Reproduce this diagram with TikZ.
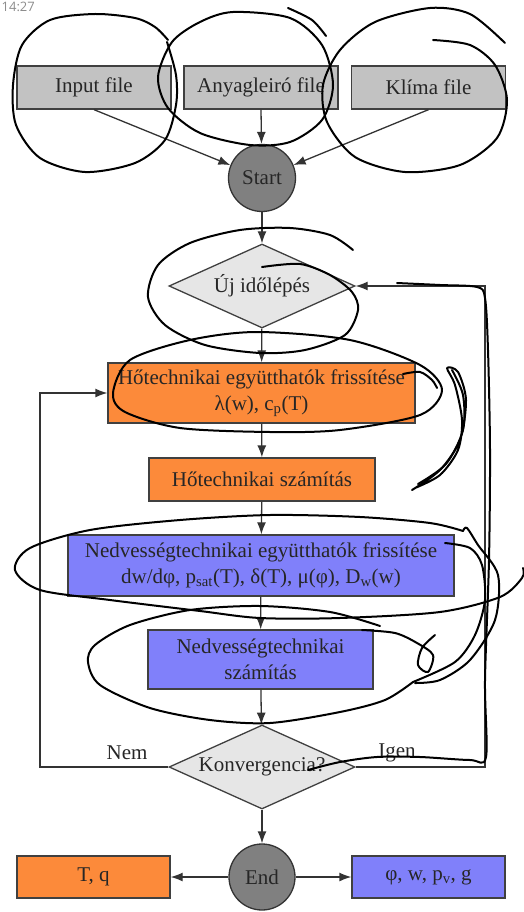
\documentclass[tikz,border=0pt]{standalone}
\usepackage{fontspec}
\setmainfont{Liberation Serif}
\newfontfamily\clockfont{Open Sans}
\usepackage{tikz}
\usetikzlibrary{shapes,shapes.geometric,arrows.meta}

\definecolor{filegray}{RGB}{194,194,194}
\definecolor{startgray}{RGB}{128,128,128}
\definecolor{askgray}{RGB}{230,230,230}
\definecolor{heatorange}{RGB}{252,138,58}
\definecolor{moistblue}{RGB}{128,128,250}

\begin{document}
\begin{tikzpicture}[x=1pt, y=-1pt, line width=1.3pt, draw=black!80,
        >={Latex[length=12pt,width=9pt]},
        every node/.append style={font=\fontsize{21}{26}\selectfont, text=black!85}]
      \tikzstyle{file} = [rectangle, draw=black!75, fill=filegray, inner sep=0pt, minimum width=154pt, minimum height=43pt]
      \tikzstyle{term} = [circle, draw=black!80, fill=startgray, inner sep=0pt, minimum size=67pt]
      \tikzstyle{ask} = [diamond, draw=black!75, fill=askgray, inner sep=0pt, aspect=2.2, minimum width=186pt, minimum height=84pt]
      \tikzstyle{heat} = [rectangle, draw=black!75, fill=heatorange, inner sep=0pt, align=center]
      \tikzstyle{moist} = [rectangle, draw=black!75, fill=moistblue, inner sep=0pt, align=center]
      \tikzstyle{scribble} = [draw=black, line width=2pt, line cap=round, line join=round]
      \useasboundingbox (0,0) rectangle (524,912);
      \node (clock) [anchor=north west, inner sep=0pt, font=\clockfont\fontsize{13}{13}\selectfont, text=black!45] at (1,1) {14:27};
      \node (inp) [file] at (94,87.5) {Input file};
      \node (any) [file] at (261,87.5) {Anyagleiró file};
      \node (kli) [file] at (428.5,87.5) {Klíma file};
      \node (start) [term] at (262,178) {Start};
      \node (uj) [ask] at (262,286) {Új időlépés};
      \node (ho1) [heat, minimum width=307pt, minimum height=60pt] at (261.5,393) {Hőtechnikai együtthatók frissítése\\ λ(w), c\textsubscript{p}(T)};
      \node (ho2) [heat, minimum width=226pt, minimum height=43pt] at (262,479.5) {Hőtechnikai számítás};
      \node (ne1) [moist, minimum width=386pt, minimum height=61pt] at (261,565.5) {Nedvességtechnikai együtthatók frissítése\\ dw/dφ, p\textsubscript{sat}(T), δ(T), μ(φ), D\textsubscript{w}(w)};
      \node (ne2) [moist, minimum width=225pt, minimum height=59pt] at (260.5,659.5) {Nedvességtechnikai\\ számítás};
      \node (konv) [ask] at (262,767) {Konvergencia?};
      \node (endn) [term, minimum size=66pt] at (262,877) {End};
      \node (tq) [heat, minimum width=153pt, minimum height=42pt] at (93.5,877) {T, q};
      \node (out) [moist, minimum width=153pt, minimum height=42pt] at (428.5,877) {φ, w, p\textsubscript{v}, g};
      \coordinate (lc) at (40,767);
      \coordinate (rc) at (485,767);
      \draw[->] (inp.south) -- (start);
      \draw[->] (any.south) -- (start);
      \draw[->] (kli.south) -- (start);
      \draw[->] (start) -- (uj);
      \draw[->] (uj) -- (ho1);
      \draw[->] (ho1) -- (ho2);
      \draw[->] (ho2) -- (ne1);
      \draw[->] (ne1) -- (ne2);
      \draw[->] (ne2) -- (konv);
      \draw[->] (konv) -- (endn);
      \draw[->] (endn) -- (tq);
      \draw[->] (endn) -- (out);
      \draw[->] (konv.west) -- (lc) |- (ho1.west);
      \draw[->] (konv.east) -- (rc) |- (uj.east);
      \node (nem) at (127,753) {Nem};
      \node (igen) at (397,753) {Igen};
      % hand drawn marks
      \draw[scribble] plot[smooth] coordinates {(167,42) (176,75) (176,105) (165,140) (135,163) (85,172) (40,158) (16,125) (13,85) (22,45) (50,20) (95,14) (135,18) (155,27) (168,40)};
      \draw[scribble] plot[smooth cycle] coordinates {(233,12) (290,18) (322,45) (333,85) (322,120) (290,142) (250,145) (200,133) (168,108) (158,77) (172,42) (200,22)};
      \draw[scribble] plot[smooth] coordinates {(288,8) (312,20) (326,36)};
      \draw[scribble] plot[smooth] coordinates {(433,40) (470,45) (495,65) (507,100) (497,138) (460,165) (405,172) (355,157) (327,122) (323,85) (340,50) (375,22) (430,8) (470,14) (505,43)};
      \draw[scribble] plot[smooth] coordinates {(262,267) (300,264) (330,275) (352,292) (358,310) (345,335) (305,350) (260,353) (205,345) (165,325) (148,297) (158,265) (190,243) (240,230) (290,228) (330,235) (353,250)};
      \draw[scribble] plot[smooth cycle] coordinates {(257,332) (350,340) (420,365) (442,390) (420,415) (340,430) (270,432) (180,428) (125,412) (113,393) (130,360) (190,340)};
      \draw[scribble] plot[smooth] coordinates {(403,374) (420,372) (432,380) (437,388)};
      \draw[scribble] plot[smooth] coordinates {(412,490) (440,470) (460,440) (466,400) (458,372) (447,368) (455,385) (462,420) (458,450) (440,475) (415,488)};
      \draw[scribble] plot[smooth] coordinates {(418,484) (446,464) (463,430) (463,395) (452,370)};
      \draw[scribble] plot[smooth] coordinates {(397,283) (440,285) (477,287) (485,298) (488,350) (490,450) (489,560) (485,680) (486,757) (470,760) (420,757) (377,757) (340,762) (308,770)};
      \draw[scribble] plot[smooth] coordinates {(523,568) (522,578) (500,597) (440,612) (340,618) (260,618) (200,611) (110,600) (40,590) (15,570) (30,548) (90,530) (180,520) (270,515) (360,517) (430,523) (463,531)};
      \draw[scribble] plot[smooth] coordinates {(445,543) (470,548) (482,565) (485,600) (475,635) (455,662) (413,682)};
      \draw[scribble] plot[smooth] coordinates {(463,531) (467,528) (478,545) (498,575) (495,620) (470,660) (440,680) (415,683)};
      \draw[scribble] plot[smooth] coordinates {(362,630) (395,633) (417,643) (433,655) (428,672) (418,665) (422,648) (435,635)};
      \draw[scribble] plot[smooth] coordinates {(380,626) (330,612) (260,606) (190,610) (130,625) (95,645) (88,662) (100,685) (150,708) (210,720) (270,723) (340,712) (385,700) (413,682)};
    \end{tikzpicture}
\end{document}
